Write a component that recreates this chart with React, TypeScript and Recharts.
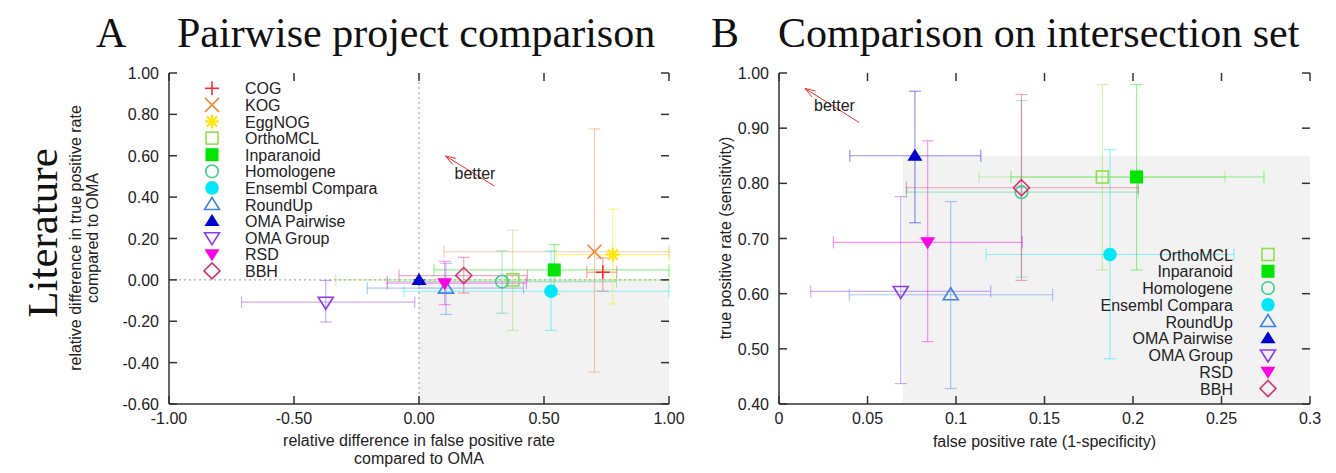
import React from "react";
import {
  ScatterChart,
  Scatter,
  XAxis,
  YAxis,
  ErrorBar,
  ReferenceArea,
  ReferenceLine,
} from "recharts";

// panel A: relative differences vs OMA
const methodsA = [
  "COG",
  "KOG",
  "EggNOG",
  "OrthoMCL",
  "Inparanoid",
  "Homologene",
  "Ensembl Compara",
  "RoundUp",
  "OMA Pairwise",
  "OMA Group",
  "RSD",
  "BBH",
];
const fprA = [0.735, 0.702, 0.775, 0.375, 0.541, 0.332, 0.528, 0.108, 0, -0.373, 0.103, 0.179];
const fprLoA = [0.671, 0.1, 0.55, -0.333, 0.06, -0.127, -0.06, -0.207, 0, -0.71, -0.127, -0.08];
const fprHiA = [0.791, 1.0, 1.0, 1.0, 1.0, 0.79, 1.0, 0.418, 0, -0.017, 0.43, 0.434];
const tprA = [0.037, 0.136, 0.122, 0.0, 0.048, -0.008, -0.055, -0.04, 0, -0.108, -0.016, 0.021];
const tprLoA = [-0.055, -0.446, -0.116, -0.244, -0.07, -0.161, -0.244, -0.167, 0, -0.204, -0.12, -0.064];
const tprHiA = [0.106, 0.73, 0.342, 0.24, 0.17, 0.141, 0.14, 0.08, 0, -0.003, 0.09, 0.109];

// panel B: absolute rates on intersection set
const methodsB = [
  "OrthoMCL",
  "Inparanoid",
  "Homologene",
  "Ensembl Compara",
  "RoundUp",
  "OMA Pairwise",
  "OMA Group",
  "RSD",
  "BBH",
];
const fprB = [0.1827, 0.202, 0.137, 0.187, 0.097, 0.0768, 0.0688, 0.084, 0.137];
const fprLoB = [0.113, 0.131, 0.072, 0.117, 0.0397, 0.04, 0.0179, 0.0307, 0.072];
const fprHiB = [0.252, 0.274, 0.203, 0.257, 0.1546, 0.114, 0.1196, 0.1375, 0.203];
const tprB = [0.8115, 0.8115, 0.784, 0.671, 0.598, 0.85, 0.604, 0.693, 0.792];
const tprLoB = [0.643, 0.643, 0.63, 0.482, 0.428, 0.7285, 0.437, 0.513, 0.624];
const tprHiB = [0.979, 0.979, 0.95, 0.861, 0.767, 0.967, 0.776, 0.877, 0.961];

const ticksXA = [-1, -0.5, 0, 0.5, 1];
const ticksYA = [-0.6, -0.4, -0.2, 0, 0.2, 0.4, 0.6, 0.8, 1];
const ticksXB = [0, 0.05, 0.1, 0.15, 0.2, 0.25, 0.3];
const ticksYB = [0.4, 0.5, 0.6, 0.7, 0.8, 0.9, 1];

const arrowA = [
  { x: 0.301, y: 0.454 },
  { x: 0.106, y: 0.599 },
];
const arrowB = [
  { x: 0.0454, y: 0.91 },
  { x: 0.0147, y: 0.972 },
];
const shadeBLeft = 0.07;

const STYLE: Record<string, { color: string; kind: string }> = {
  COG: { color: "#ff2a2a", kind: "plus" },
  KOG: { color: "#f0883a", kind: "cross" },
  EggNOG: { color: "#ffe600", kind: "star" },
  OrthoMCL: { color: "#8ee04a", kind: "square" },
  Inparanoid: { color: "#00e600", kind: "squareFilled" },
  Homologene: { color: "#3ccf8e", kind: "circle" },
  "Ensembl Compara": { color: "#00e8f8", kind: "circleFilled" },
  RoundUp: { color: "#3f83e8", kind: "triUp" },
  "OMA Pairwise": { color: "#0000d0", kind: "triUpFilled" },
  "OMA Group": { color: "#8a3cf0", kind: "triDown" },
  RSD: { color: "#ff00e6", kind: "triDownFilled" },
  BBH: { color: "#dc2f72", kind: "diamond" },
};

const SANS = "'Liberation Sans', Arial, Helvetica, sans-serif";
const SERIF = "'Liberation Serif', 'Times New Roman', serif";
const INK = "#333";
const FS = 16;

const PLOT_TOP = 73;
const PLOT_H = 331;
const H = 473;

function makeRows(m: string[], x: number[], lo: number[], hi: number[], y: number[], ylo: number[], yhi: number[]) {
  return m.map((name, i) => ({
    name,
    x: x[i],
    y: y[i],
    ex: [x[i] - lo[i], hi[i] - x[i]],
    ey: [y[i] - ylo[i], yhi[i] - y[i]],
  }));
}

const rowsA = makeRows(methodsA, fprA, fprLoA, fprHiA, tprA, tprLoA, tprHiA);
const rowsB = makeRows(methodsB, fprB, fprLoB, fprHiB, tprB, tprLoB, tprHiB);

function Marker({ kind, color, cx, cy }: { kind: string; color: string; cx: number; cy: number }) {
  const sw = 1.6;
  switch (kind) {
    case "plus":
      return (
        <g stroke={color} strokeWidth={sw}>
          <line x1={cx - 7} x2={cx + 7} y1={cy} y2={cy} />
          <line x1={cx} x2={cx} y1={cy - 7} y2={cy + 7} />
        </g>
      );
    case "cross":
      return (
        <g stroke={color} strokeWidth={sw}>
          <line x1={cx - 7} x2={cx + 7} y1={cy - 7} y2={cy + 7} />
          <line x1={cx - 7} x2={cx + 7} y1={cy + 7} y2={cy - 7} />
        </g>
      );
    case "star":
      return (
        <g stroke={color} strokeWidth={2.2}>
          <line x1={cx - 7} x2={cx + 7} y1={cy} y2={cy} />
          <line x1={cx} x2={cx} y1={cy - 7} y2={cy + 7} />
          <line x1={cx - 5} x2={cx + 5} y1={cy - 5} y2={cy + 5} />
          <line x1={cx - 5} x2={cx + 5} y1={cy + 5} y2={cy - 5} />
        </g>
      );
    case "square":
      return <rect x={cx - 6} y={cy - 6} width={12} height={12} fill="none" stroke={color} strokeWidth={sw} />;
    case "squareFilled":
      return <rect x={cx - 6.5} y={cy - 6.5} width={13} height={13} fill={color} />;
    case "circle":
      return <circle cx={cx} cy={cy} r={6.3} fill="none" stroke={color} strokeWidth={sw} />;
    case "circleFilled":
      return <circle cx={cx} cy={cy} r={6.8} fill={color} />;
    case "triUp":
    case "triUpFilled": {
      const pts = `${cx},${cy - 7} ${cx + 7.5},${cy + 5} ${cx - 7.5},${cy + 5}`;
      return kind === "triUp" ? (
        <polygon points={pts} fill="none" stroke={color} strokeWidth={sw} />
      ) : (
        <polygon points={pts} fill={color} />
      );
    }
    case "triDown":
    case "triDownFilled": {
      const pts = `${cx},${cy + 7} ${cx + 7.5},${cy - 5} ${cx - 7.5},${cy - 5}`;
      return kind === "triDown" ? (
        <polygon points={pts} fill="none" stroke={color} strokeWidth={sw} />
      ) : (
        <polygon points={pts} fill={color} />
      );
    }
    case "diamond":
      return (
        <polygon
          points={`${cx},${cy - 8} ${cx + 8},${cy} ${cx},${cy + 8} ${cx - 8},${cy}`}
          fill="none"
          stroke={color}
          strokeWidth={sw}
        />
      );
    default:
      return null;
  }
}

// gnuplot-style inward ticks, mirrored on the opposite edge
const makeXTick = (fmt: (v: number) => string) => (props: any) => {
  const { x, y, payload } = props;
  return (
    <g>
      <line x1={x} x2={x} y1={y} y2={y - 8} stroke={INK} strokeWidth={1.5} />
      <line x1={x} x2={x} y1={y - PLOT_H} y2={y - PLOT_H + 8} stroke={INK} strokeWidth={1.5} />
      <text x={x} y={y + 20} textAnchor="middle" fontSize={FS} fontFamily={SANS} fill="#222">
        {fmt(payload.value)}
      </text>
    </g>
  );
};

const makeYTick = (plotW: number, fmt: (v: number) => string) => (props: any) => {
  const { x, y, payload } = props;
  return (
    <g>
      <line x1={x} x2={x + 8} y1={y} y2={y} stroke={INK} strokeWidth={1.5} />
      <line x1={x + plotW} x2={x + plotW - 8} y1={y} y2={y} stroke={INK} strokeWidth={1.5} />
      <text x={x - 10} y={y + 6} textAnchor="end" fontSize={FS} fontFamily={SANS} fill="#222">
        {fmt(payload.value)}
      </text>
    </g>
  );
};

const arrowShape = (p: any) => {
  const { x1, y1, x2, y2 } = p;
  const ang = Math.atan2(y2 - y1, x2 - x1);
  const L = 11;
  const w = 0.32;
  return (
    <g>
      <line x1={x1} y1={y1} x2={x2} y2={y2} stroke="#ee3030" strokeWidth={1} />
      <line x1={x2} y1={y2} x2={x2 - L * Math.cos(ang - w)} y2={y2 - L * Math.sin(ang - w)} stroke="#ee3030" strokeWidth={1} />
      <line x1={x2} y1={y2} x2={x2 - L * Math.cos(ang + w)} y2={y2 - L * Math.sin(ang + w)} stroke="#ee3030" strokeWidth={1} />
      <text x={x2 + 9} y={y2 + 23} fontSize={FS} fontFamily={SANS} fill="#222">
        better
      </text>
    </g>
  );
};

function series(rows: any[]) {
  return rows.map((r) => {
    const st = STYLE[r.name];
    return (
      <Scatter
        key={r.name}
        name={r.name}
        data={[r]}
        isAnimationActive={false}
        shape={(p: any) => <Marker kind={st.kind} color={st.color} cx={p.cx} cy={p.cy} />}
      >
        <ErrorBar dataKey="ex" direction="x" width={6} stroke={st.color} strokeOpacity={0.42} strokeWidth={1.2} isAnimationActive={false} />
        <ErrorBar dataKey="ey" direction="y" width={6} stroke={st.color} strokeOpacity={0.42} strokeWidth={1.2} isAnimationActive={false} />
      </Scatter>
    );
  });
}

function Legend({ names, x, y0, dy, right }: { names: string[]; x: number; y0: number; dy: number; right: boolean }) {
  return (
    <g>
      {names.map((n, i) => {
        const st = STYLE[n];
        const cy = y0 + i * dy;
        const mx = right ? x + 35 : x;
        const tx = right ? x : x + 33;
        return (
          <g key={n}>
            <Marker kind={st.kind} color={st.color} cx={mx} cy={cy} />
            <text x={tx} y={cy + 6} textAnchor={right ? "end" : "start"} fontSize={FS} fontFamily={SANS} fill="#222">
              {n}
            </text>
          </g>
        );
      })}
    </g>
  );
}

const fmt2 = (v: number) => v.toFixed(2);
const fmtPlain = (v: number) => String(v);

export default function App() {
  const axisLine = { stroke: INK, strokeWidth: 1.5 };
  return (
    <div style={{ position: "relative", width: 1336, height: H, background: "#fff", overflow: "hidden" }}>
      <style>{"body{margin:0}"}</style>
      <div style={{ position: "absolute", left: 0, top: 0 }}>
        <ScatterChart width={690} height={H} margin={{ top: PLOT_TOP, right: 21, bottom: 29, left: 109 }}>
          <XAxis
            type="number"
            dataKey="x"
            domain={[-1, 1]}
            ticks={ticksXA}
            tickSize={0}
            tickMargin={0}
            tickLine={false}
            axisLine={axisLine}
            height={40}
            tick={makeXTick(fmt2)}
          />
          <YAxis
            type="number"
            dataKey="y"
            domain={[-0.6, 1]}
            ticks={ticksYA}
            tickSize={0}
            tickMargin={0}
            tickLine={false}
            axisLine={axisLine}
            width={60}
            tick={makeYTick(500, fmt2)}
          />
          <ReferenceArea x1={0} x2={1} y1={-0.6} y2={0} fill="#f2f2f2" fillOpacity={1} stroke="none" />
          <ReferenceLine x={0} stroke="#999" strokeDasharray="2 3" />
          <ReferenceLine y={0} stroke="#999" strokeDasharray="2 3" />
          <ReferenceLine segment={arrowA} shape={arrowShape} />
          {series(rowsA)}
        </ScatterChart>
      </div>
      <div style={{ position: "absolute", left: 680, top: 0 }}>
        <ScatterChart width={656} height={H} margin={{ top: PLOT_TOP, right: 26, bottom: 29, left: 39 }}>
          <XAxis
            type="number"
            dataKey="x"
            domain={[0, 0.3]}
            ticks={ticksXB}
            tickSize={0}
            tickMargin={0}
            tickLine={false}
            axisLine={axisLine}
            height={40}
            tick={makeXTick(fmtPlain)}
          />
          <YAxis
            type="number"
            dataKey="y"
            domain={[0.4, 1]}
            ticks={ticksYB}
            tickSize={0}
            tickMargin={0}
            tickLine={false}
            axisLine={axisLine}
            width={60}
            tick={makeYTick(531, fmt2)}
          />
          <ReferenceArea
            x1={shadeBLeft}
            x2={0.3}
            y1={0.4}
            y2={tprB[methodsB.indexOf("OMA Pairwise")]}
            fill="#f2f2f2"
            fillOpacity={1}
            stroke="none"
          />
          <ReferenceLine segment={arrowB} shape={arrowShape} />
          {series(rowsB)}
        </ScatterChart>
      </div>
      <svg width={1336} height={H} style={{ position: "absolute", left: 0, top: 0, pointerEvents: "none" }}>
        <g fontFamily={SERIF} fill="#111" fontSize={42}>
          <text x={96} y={47}>A</text>
          <text x={177} y={47}>Pairwise project comparison</text>
          <text x={711} y={47}>B</text>
          <text x={778} y={47}>Comparison on intersection set</text>
          <text transform="translate(57,233) rotate(-90)" textAnchor="middle" fontSize={43}>
            Literature
          </text>
        </g>
        <g fontFamily={SANS} fill="#222" fontSize={FS} textAnchor="middle">
          <text x={419} y={446}>relative difference in false positive rate</text>
          <text x={419} y={464}>compared to OMA</text>
          <text transform="translate(81,238) rotate(-90)">relative difference in true positive rate</text>
          <text transform="translate(98,238) rotate(-90)">compared to OMA</text>
          <text x={1044.5} y={447}>false positive rate (1-specificity)</text>
          <text transform="translate(731,238) rotate(-90)">true positive rate (sensitivity)</text>
        </g>
        <Legend names={methodsA} x={212} y0={88.3} dy={16.6} right={false} />
        <Legend names={methodsB} x={1233} y0={254.5} dy={16.75} right={true} />
      </svg>
    </div>
  );
}
